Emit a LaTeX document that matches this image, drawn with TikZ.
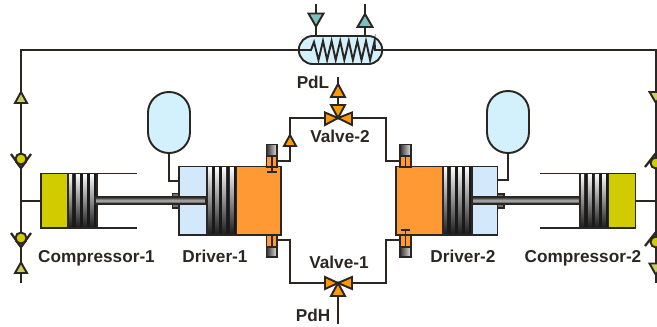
\documentclass[tikz,border=0pt]{standalone}
\usepackage{fontspec}
\setmainfont{Liberation Sans}
\definecolor{ink}{HTML}{2B2622}
\definecolor{ltblue}{HTML}{D3F1FD}
\definecolor{drvblue}{HTML}{D3E9FB}
\definecolor{orng}{HTML}{FF9933}
\definecolor{valveor}{HTML}{FF9900}
\definecolor{yel}{HTML}{D0CC00}
\definecolor{tealt}{HTML}{7FBFBF}
\definecolor{olivet}{HTML}{CCCC66}
\tikzset{
 pipe/.style={draw=ink,line width=1.45pt},
 part/.style={draw=ink,line width=1.45pt},
 lbl/.style={font=\bfseries\fontsize{12.9pt}{14pt}\selectfont,text=ink,inner sep=0pt,anchor=base},
}
\newcommand{\tri}[5]{\filldraw[part,fill=#5,line join=miter] (#1-#3,#2) -- (#1+#3,#2) -- (#1,#2+#4) -- cycle;}
\newcommand{\chk}[2]{%
 \filldraw[part,fill=white] (#1-4,#2+4) -- (#1+4,#2+4) -- (#1,#2+9) -- cycle;
 \draw[part,line width=1.7pt] (#1-10,#2-5) -- (#1,#2+9) -- (#1+10,#2-5);
 \filldraw[part,fill=yel] (#1,#2) circle (5.5);}
\newcommand{\chkr}[2]{%
 \draw[part,line width=1.7pt] (#1-11,#2+4) -- (#1,#2-10) -- (#1+11,#2+4);
 \filldraw[part,fill=yel] (#1,#2) circle (5.5);}
\newcommand{\pist}[4]{%
 \fill[black!90] (#1,#2) rectangle (#3,#4);
 \foreach \k in {0,1,2,3}{
  \shade[top color=white,bottom color=black!90,middle color=black!45] ({#1+(\k+.1)*(#3-#1)/4},#2) rectangle ({#1+(\k+.58)*(#3-#1)/4},#4);}
 \draw[part] (#1,#2) rectangle (#3,#4);}
\newcommand{\tank}[4]{\filldraw[part,fill=ltblue,rounded corners=15.6pt] (#1,#2) rectangle (#3,#4);}
\begin{document}
\begin{tikzpicture}[x=0.75pt,y=-0.75pt]
\useasboundingbox (0,0) rectangle (657,326);
\clip (0,0) rectangle (657,326);
\coordinate (tl) at (21,50); \coordinate (tr) at (656,50);
\coordinate (bl) at (21,283); \coordinate (br) at (656,283);
\node[part,fill=ltblue,rounded corners=10.4pt,minimum width=62.5pt,minimum height=21pt,inner sep=0pt] (cooler) at (340.5,50) {};
\draw[pipe] (bl) -- (tl) -- (cooler.west);
\draw[pipe] (br) -- (tr) -- (cooler.east);
\coordinate (cin) at (316,4); \coordinate (cout) at (365,4);
\draw[pipe] (cin) -- (316,36);
\draw[pipe] (cout) -- (365,36);
\tri{316}{13.5}{7.5}{13}{tealt}
\tri{365}{27}{7.5}{-13}{tealt}
\draw[part,line join=miter] (cooler.west) -- (306,50) -- (311,50) -- (314,42)
 \foreach \i in {0,...,6}{ -- ({318.5+\i*8.6},60) -- ({323+\i*8.6},41)} -- (375,50) -- (cooler.east);
% left line fittings
\tri{21}{103}{6}{-11}{olivet}
\chk{21}{159}
\chk{21}{238}
\tri{21}{273}{6}{-10.5}{olivet}
% compressor 1
\coordinate (c1) at (41,201);
\draw[pipe] (21,201) -- (c1);
\draw[part] (97,173.5) -- (137,173.5) (97,228) -- (137,228);
\filldraw[part,fill=yel] (41,173.5) rectangle (68,228);
\pist{68}{173.5}{97}{228}
% driver 1
\filldraw[part,fill=drvblue] (179,166.5) rectangle (207,235);
\pist{207}{166.5}{236.5}{235}
\filldraw[part,fill=orng] (236.5,166.5) rectangle (281,235);
\filldraw[part,fill=black!55] (172.5,193.5) rectangle (179,208);
\draw[part,top color=black!85,bottom color=black!85,middle color=black!30] (95,197) rectangle (206,204);
\tank{148}{92}{190}{153}
\draw[pipe] (169,153) -- (169,181) -- (179,181);
% driver 2
\filldraw[part,fill=drvblue] (472,166.5) rectangle (497.5,235);
\pist{443}{166.5}{472}{235}
\filldraw[part,fill=orng] (396,166.5) rectangle (443,235);
\filldraw[part,fill=black!55] (497.5,194) rectangle (504,208);
\draw[part,top color=black!85,bottom color=black!85,middle color=black!30] (472,197) rectangle (583,204);
\tank{487}{91}{529}{153}
\draw[pipe] (508,153) -- (508,180) -- (497.5,180);
% compressor 2
\draw[part] (580,173.5) -- (540,173.5) (580,228) -- (540,228);
\filldraw[part,fill=yel] (608.5,173.5) rectangle (635.5,228);
\pist{580}{173.5}{608.5}{228}
\draw[pipe] (635.5,201) -- (656,201);
% right line fittings
\tri{656}{92}{6.5}{11}{olivet}
\chkr{656}{163}
\chkr{656}{242}
\tri{656}{263.5}{6.5}{11.5}{olivet}
% ports
\foreach \xa/\xb in {266.5/277, 400/411}{
 \filldraw[part,fill=orng] (\xa,156) rectangle (\xb,167);
 \filldraw[part,left color=black!80,right color=black!10] (\xa,144.5) rectangle (\xb,156);
 \draw[part] ({(\xa+\xb)/2},156) -- ({(\xa+\xb)/2},167);
 \filldraw[part,fill=orng] (\xa,235) rectangle (\xb,247);
 \filldraw[part,left color=black!80,right color=black!10] (\xa,247) rectangle (\xb,257);
 \draw[part] ({(\xa+\xb)/2},235) -- ({(\xa+\xb)/2},247);}
\draw[part] (271.7,167) -- (271.7,172) (267,172) -- (276.5,172);
\draw[part] (405.5,235) -- (405.5,230) (401,230) -- (410,230);
% valve 2
\coordinate (v2) at (338,118);
\coordinate (pdl) at (338,77);
\draw[pipe] (v2) -- (pdl);
\draw[pipe] (v2) -- (290,118) -- (290,161) -- (277,161);
\draw[pipe] (v2) -- (386,118) -- (386,161) -- (400,161);
\tri{338}{97}{7}{-13}{valveor}
\tri{290}{146}{6}{-11}{valveor}
\tri{338}{105}{7}{13}{valveor}
\filldraw[part,fill=valveor,line join=miter] (v2) -- (325,112.5) -- (325,125) -- cycle;
\filldraw[part,fill=valveor,line join=miter] (v2) -- (352,112.5) -- (352,125) -- cycle;
% valve 1
\coordinate (v1) at (338,283);
\coordinate (pdh) at (338,324);
\draw[pipe] (v1) -- (pdh);
\draw[pipe] (v1) -- (290,283) -- (290,240) -- (277,240);
\draw[pipe] (v1) -- (386,283) -- (386,240) -- (400,240);
\tri{338}{296}{7}{-13}{valveor}
\filldraw[part,fill=valveor,line join=miter] (v1) -- (325,277) -- (325,289) -- cycle;
\filldraw[part,fill=valveor,line join=miter] (v1) -- (352,277) -- (352,289) -- cycle;
% labels
\node[lbl] (l1) at (96.5,262) {Compressor-1};
\node[lbl] (l2) at (215,262) {Driver-1};
\node[lbl] (l3) at (463,262) {Driver-2};
\node[lbl] (l4) at (583,262) {Compressor-2};
\node[lbl] (l5) at (339,268) {Valve-1};
\node[lbl] (l6) at (340,142.5) {Valve-2};
\node[lbl] (l7) at (313,88) {PdL};
\node[lbl] (l8) at (313,321) {PdH};
\end{tikzpicture}
\end{document}
